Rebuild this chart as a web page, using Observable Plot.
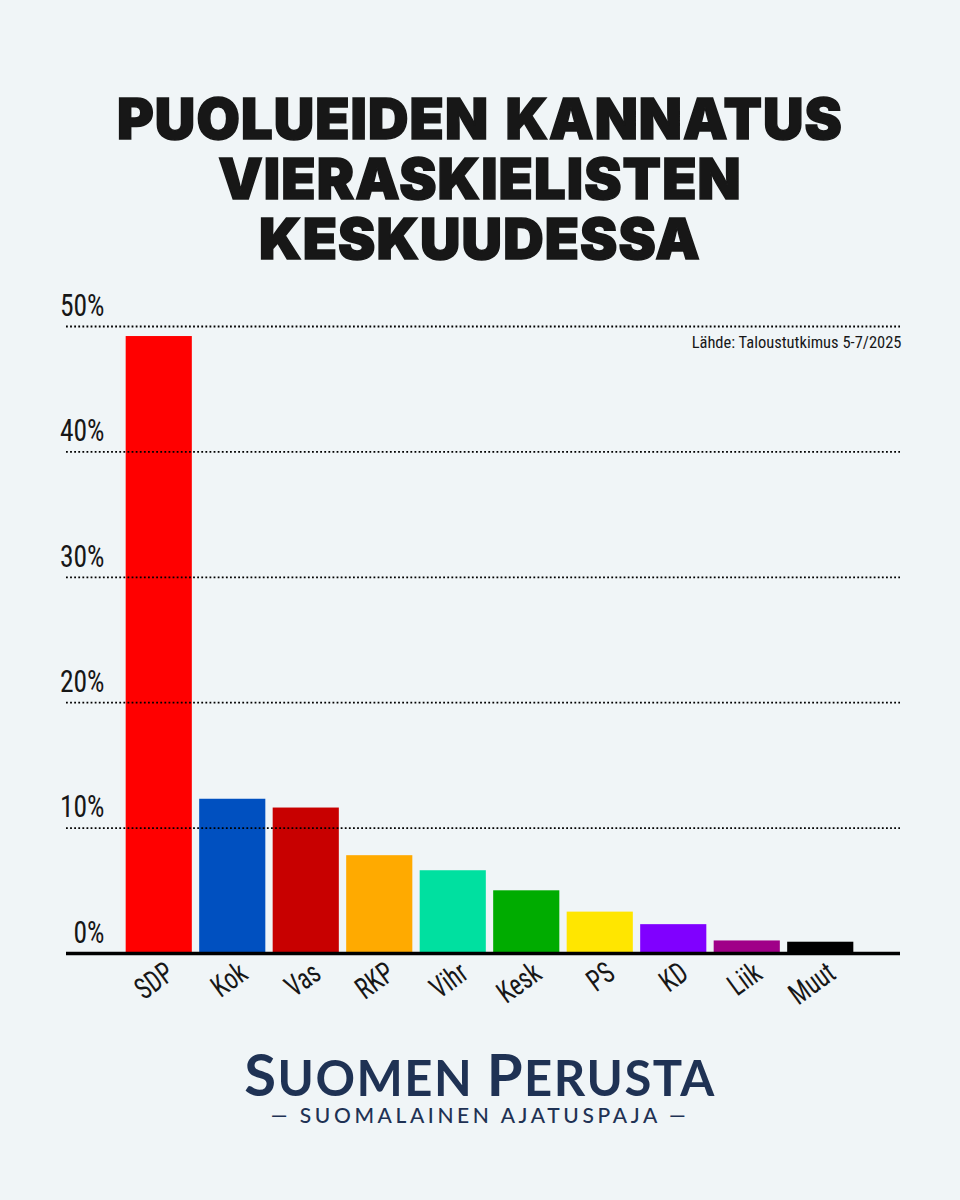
<!DOCTYPE html>
<html>
<head>
<meta charset="utf-8">
<script src="https://cdn.jsdelivr.net/npm/d3@7"></script>
<script src="https://cdn.jsdelivr.net/npm/@observablehq/plot@0.6"></script>
<style>
html,body{margin:0;padding:0;background:#f0f5f7;}
#page{width:960px;height:1200px;position:relative;overflow:hidden;background:#f0f5f7;}
#title{position:absolute;left:0;top:89px;width:960px;text-align:center;font-family:Inter,Roboto,sans-serif;font-weight:900;font-size:56px;line-height:60px;letter-spacing:1.1px;word-spacing:4px;color:#171717;-webkit-text-stroke:1.5px #171717;}
#title div{height:60px;}
#chart{position:absolute;left:0;top:280px;}
#logo{position:absolute;left:0;top:1042px;width:960px;text-align:center;color:#1f3254;font-family:Lato,"Open Sans",sans-serif;}
#logo .a{font-weight:700;font-size:49px;line-height:64px;letter-spacing:1.5px;}
#logo .a span{font-size:58px;}
#logo .b{font-weight:500;font-size:21px;line-height:22px;letter-spacing:3.6px;margin-top:-5px;}
</style>
</head>
<body>
<div id="page">
  <div id="title"><div>PUOLUEIDEN KANNATUS</div><div>VIERASKIELISTEN</div><div>KESKUUDESSA</div></div>
  <div id="chart"></div>
  <div id="logo"><div class="a"><span>S</span>UOMEN <span>P</span>ERUSTA</div><div class="b">— SUOMALAINEN AJATUSPAJA —</div></div>
</div>
<script>
const parties = ["SDP","Kok","Vas","RKP","Vihr","Kesk","PS","KD","Liik","Muut"];
const support = [49.2,12.3,11.6,7.8,6.6,5.0,3.3,2.3,1.0,0.9];
const colors = ["#ff0000","#0050c0","#c80000","#ffaa00","#00e0a0","#00ac00","#ffe600","#8000ff","#a00088","#000000"];
const yTicks = [0,10,20,30,40,50];
const source = "Lähde: Taloustutkimus 5-7/2025";
const rows = parties.map((p,i)=>({party:p,value:support[i]}));
const font = '"Roboto Condensed",Roboto,sans-serif';

const plot = Plot.plot({
  width:960, height:740,
  marginLeft:66, marginRight:60, marginTop:46, marginBottom:67,
  style:{background:"transparent",fontFamily:font,color:"#171717",overflow:"visible"},
  x:{domain:parties,range:[122,857],paddingInner:0.1,paddingOuter:0.05,round:false,label:null},
  y:{domain:[0,50],range:[673,46],label:null},
  color:{domain:parties,range:colors},
  marks:[
    Plot.barY(rows,{x:"party",y:"value",fill:"party"}),
    Plot.gridY(yTicks,{stroke:"#000",strokeOpacity:1,strokeWidth:1.8,strokeDasharray:"1.8,2.3"}),
    Plot.axisY({ticks:yTicks,anchor:"left",tickSize:0,tickPadding:-38,dy:-21,tickFormat:d=>d+"%",fontSize:32,label:null,lineAnchor:"middle"}),
    Plot.axisX({anchor:"bottom",tickSize:0,tickRotate:-36,tickPadding:8,fontSize:30,dx:11,dy:8,label:null}),
    Plot.ruleY([0],{stroke:"#000",strokeWidth:3.5}),
    Plot.text([source],{frameAnchor:"top-right",text:d=>d,fontSize:16.5,dy:10,dx:1,fill:"#171717",lineAnchor:"top"})
  ]
});
document.getElementById("chart").appendChild(plot);
// condense the tick labels horizontally, as the narrow typeface of the reference does
plot.querySelectorAll('[aria-label="y-axis tick label"] text').forEach(t=>{
  t.setAttribute("textLength", t.getComputedTextLength()*0.86);
  t.setAttribute("lengthAdjust","spacingAndGlyphs");
});
plot.querySelectorAll('[aria-label="x-axis tick label"] text').forEach(t=>{
  t.setAttribute("textLength", t.getComputedTextLength()*0.8);
  t.setAttribute("lengthAdjust","spacingAndGlyphs");
});
</script>
</body>
</html>
